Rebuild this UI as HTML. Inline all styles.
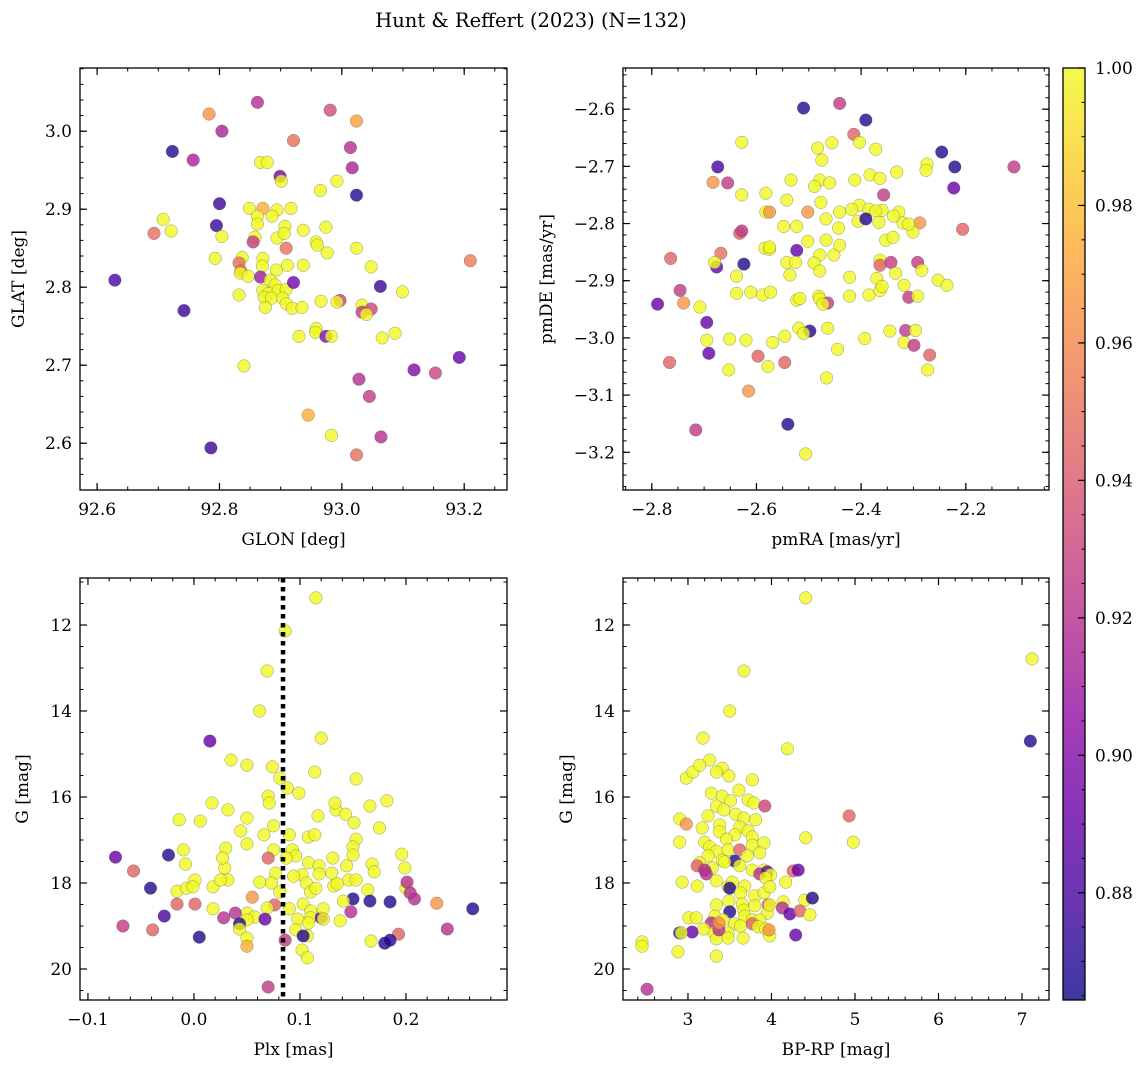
<!DOCTYPE html>
<html><head><meta charset="utf-8"><style>
html,body{margin:0;padding:0;background:#fff;}
svg{display:block;font-family:"DejaVu Serif","Liberation Serif",serif;}
</style></head><body>
<svg id="fig" width="1148" height="1067" viewBox="0 0 1148 1067" xmlns="http://www.w3.org/2000/svg">
<defs>
<linearGradient id="plasmaGrad" x1="0" y1="1" x2="0" y2="0">
<stop offset="0" stop-color="#0d0887"/><stop offset="0.1" stop-color="#41049d"/><stop offset="0.2" stop-color="#6a00a8"/><stop offset="0.3" stop-color="#8f0da4"/><stop offset="0.4" stop-color="#b12a90"/><stop offset="0.5" stop-color="#cc4778"/><stop offset="0.6" stop-color="#e16462"/><stop offset="0.7" stop-color="#f2844b"/><stop offset="0.8" stop-color="#fca636"/><stop offset="0.9" stop-color="#fcce25"/><stop offset="1" stop-color="#f0f921"/>
</linearGradient>
</defs>
<text x="531" y="27" text-anchor="middle" font-size="19.5">Hunt &amp; Reffert (2023) (N=132)</text>
</svg>
<script>
// ---- Panel 1: GLON / GLAT ----
const p1Glon=[92.783,92.862,92.981,93.024,93.014,92.804,92.723,92.757,92.921,93.017,92.867,92.878,92.899,92.901,92.992,92.965,93.024,92.849,92.871,92.894,92.917,92.708,92.800,92.862,92.886,92.974,92.721,92.693,92.795,92.862,92.907,92.937,92.804,92.858,92.894,92.906,92.958,92.960,92.976,93.024,92.793,92.837,92.855,92.909,92.871,92.832,92.835,92.870,92.893,92.911,92.937,93.048,92.629,92.742,92.834,92.847,92.867,92.883,92.891,92.871,92.880,92.896,92.909,92.921,93.063,93.099,92.832,92.873,92.885,92.903,92.909,92.875,92.919,92.935,92.997,92.992,93.033,93.033,93.048,93.040,92.966,92.958,92.957,92.974,92.930,92.983,93.087,93.066,93.210,92.840,93.192,93.153,93.118,93.028,93.045,92.945,92.983,93.064,93.024,92.786];
const p1Glat=[3.022,3.037,3.027,3.013,2.979,3.000,2.974,2.963,2.988,2.953,2.960,2.960,2.942,2.936,2.936,2.924,2.918,2.901,2.901,2.899,2.901,2.887,2.907,2.891,2.891,2.877,2.872,2.869,2.879,2.881,2.878,2.873,2.865,2.864,2.863,2.869,2.858,2.854,2.844,2.850,2.837,2.838,2.858,2.850,2.837,2.831,2.821,2.827,2.822,2.828,2.828,2.826,2.809,2.770,2.818,2.814,2.813,2.809,2.803,2.796,2.792,2.796,2.797,2.806,2.801,2.794,2.790,2.787,2.786,2.786,2.779,2.774,2.773,2.774,2.783,2.781,2.777,2.768,2.772,2.765,2.782,2.747,2.742,2.737,2.737,2.737,2.741,2.735,2.834,2.699,2.710,2.690,2.694,2.682,2.660,2.636,2.610,2.608,2.585,2.594];
const p1Prob=[0.965,0.92,0.935,0.97,0.92,0.915,0.87,0.915,0.95,0.915,1,1,0.895,1,1,1,0.87,1,0.975,1,1,1,0.875,1,1,1,1,0.95,0.875,1,1,1,1,1,1,1,1,1,1,1,1,1,0.925,0.95,1,0.95,0.95,1,1,1,1,1,0.88,0.875,1,1,0.91,1,1,1,1,1,1,0.895,0.875,1,1,1,1,1,1,1,1,1,0.93,1,1,0.925,0.93,1,1,1,1,0.9,1,1,1,1,0.955,1,0.89,0.93,0.9,0.92,0.925,0.975,1,0.92,0.95,0.875];

// ---- Panel 2: pmRA / pmDE ----
const p2Pmra=[-2.510,-2.441,-2.391,-2.414,-2.456,-2.403,-2.628,-2.246,-2.108,-2.483,-2.475,-2.372,-2.221,-2.674,-2.274,-2.276,-2.332,-2.683,-2.655,-2.534,-2.479,-2.383,-2.364,-2.628,-2.582,-2.489,-2.460,-2.412,-2.502,-2.357,-2.223,-2.328,-2.360,-2.582,-2.575,-2.206,-2.477,-2.542,-2.403,-2.385,-2.441,-2.418,-2.372,-2.288,-2.632,-2.548,-2.628,-2.523,-2.443,-2.467,-2.406,-2.366,-2.320,-2.301,-2.309,-2.338,-2.584,-2.575,-2.523,-2.502,-2.467,-2.479,-2.452,-2.441,-2.364,-2.353,-2.339,-2.764,-2.668,-2.676,-2.624,-2.638,-2.680,-2.542,-2.490,-2.479,-2.536,-2.525,-2.575,-2.422,-2.364,-2.343,-2.334,-2.292,-2.284,-2.253,-2.236,-2.638,-2.588,-2.573,-2.523,-2.481,-2.479,-2.464,-2.422,-2.385,-2.364,-2.309,-2.292,-2.370,-2.360,-2.318,-2.789,-2.746,-2.739,-2.708,-2.611,-2.517,-2.473,-2.695,-2.519,-2.498,-2.464,-2.315,-2.345,-2.296,-2.695,-2.691,-2.651,-2.620,-2.597,-2.569,-2.546,-2.510,-2.393,-2.318,-2.299,-2.269,-2.766,-2.653,-2.578,-2.546,-2.445,-2.466,-2.273,-2.615,-2.716,-2.540,-2.506,-2.391];
const p2Pmde=[-2.598,-2.590,-2.619,-2.644,-2.659,-2.658,-2.658,-2.675,-2.701,-2.668,-2.689,-2.670,-2.701,-2.701,-2.696,-2.707,-2.710,-2.728,-2.729,-2.724,-2.724,-2.715,-2.721,-2.750,-2.747,-2.735,-2.729,-2.724,-2.780,-2.750,-2.738,-2.780,-2.777,-2.780,-2.780,-2.810,-2.763,-2.759,-2.768,-2.775,-2.780,-2.775,-2.778,-2.799,-2.817,-2.805,-2.813,-2.805,-2.808,-2.792,-2.796,-2.798,-2.799,-2.815,-2.801,-2.787,-2.843,-2.845,-2.847,-2.831,-2.829,-2.855,-2.855,-2.838,-2.864,-2.829,-2.824,-2.861,-2.852,-2.876,-2.871,-2.892,-2.868,-2.868,-2.869,-2.883,-2.890,-2.868,-2.841,-2.894,-2.873,-2.868,-2.887,-2.868,-2.882,-2.899,-2.908,-2.922,-2.925,-2.920,-2.934,-2.927,-2.932,-2.939,-2.927,-2.925,-2.917,-2.929,-2.927,-2.896,-2.910,-2.908,-2.941,-2.917,-2.939,-2.946,-2.920,-2.931,-2.941,-2.973,-2.983,-2.988,-2.983,-2.987,-2.988,-2.987,-3.004,-3.027,-3.002,-3.004,-3.032,-3.008,-2.997,-2.992,-3.001,-3.008,-3.013,-3.030,-3.043,-3.056,-3.050,-3.043,-3.020,-3.070,-3.056,-3.093,-3.161,-3.151,-3.203,-2.792];
const p2Prob=[0.87,0.925,0.87,0.945,1,1,1,0.87,0.925,1,1,1,0.87,0.88,1,1,1,0.965,0.925,1,1,1,1,1,1,1,1,1,0.965,0.925,0.89,1,1,1,0.965,0.945,1,1,1,1,1,1,1,0.965,0.945,1,0.925,1,1,1,1,1,1,1,1,1,1,1,0.89,1,1,1,1,1,1,1,1,0.945,0.95,0.89,0.87,1,1,1,1,1,1,1,1,1,0.945,0.925,1,0.925,1,1,1,1,1,1,1,1,1,0.925,1,1,1,0.925,1,1,1,1,0.89,0.925,0.965,1,1,1,1,0.89,1,0.87,1,0.925,1,1,1,0.89,1,1,0.945,1,1,1,1,1,0.925,0.945,0.945,1,1,0.945,1,1,1,0.965,0.925,0.87,1,0.87];

// ---- Panel 3: Plx / G ----
const p3Plx=[0.115,0.086,0.069,0.062,0.120,0.015,0.035,0.074,0.081,0.088,0.050,0.114,0.153,0.099,0.070,0.071,0.166,0.182,0.134,0.117,0.133,0.017,0.032,0.006,-0.014,0.050,0.143,0.044,0.066,0.090,0.108,0.114,0.175,0.151,0.153,0.075,0.050,0.150,0.093,-0.010,0.030,0.075,0.096,0.029,0.070,0.087,0.108,0.077,0.102,0.118,0.130,0.144,0.150,0.168,0.196,-0.074,-0.057,-0.024,-0.008,0.027,0.131,0.146,0.170,0.094,0.073,0.106,0.118,0.132,0.153,0.001,0.032,0.055,-0.041,-0.016,-0.007,-0.001,0.018,0.025,0.062,0.081,0.110,0.115,0.135,0.164,0.199,0.200,0.201,0.208,0.150,0.185,0.103,0.076,0.090,0.141,0.166,0.110,0.110,0.120,0.122,0.138,0.204,0.229,0.263,-0.016,0.001,0.069,0.018,0.050,0.057,0.050,0.028,0.039,0.043,0.067,0.098,0.108,0.122,0.148,-0.028,-0.067,-0.039,0.005,0.043,0.050,0.050,0.086,0.096,0.107,0.103,0.167,0.193,0.239,0.102,0.107,0.070,0.180,0.185];
const p3G=[11.37,12.14,13.07,14.00,14.63,14.70,15.14,15.30,15.56,15.79,15.26,15.42,15.58,15.91,15.98,16.14,16.21,16.09,16.30,16.44,16.14,16.14,16.30,16.56,16.53,16.49,16.40,16.79,16.88,16.88,16.93,16.88,16.72,16.60,16.98,16.67,17.09,17.16,17.23,17.23,17.19,17.23,17.37,17.65,17.42,17.42,17.53,17.77,17.81,17.60,17.77,17.60,17.35,17.56,17.33,17.40,17.72,17.35,17.56,17.42,17.42,17.93,17.74,17.84,18.00,18.00,17.79,18.07,17.93,17.93,17.93,18.33,18.12,18.19,18.12,18.09,18.09,17.93,17.98,18.21,18.21,18.12,18.02,18.16,17.65,18.12,17.98,18.37,18.37,18.44,18.49,18.51,18.60,18.42,18.42,18.65,18.81,18.81,18.60,18.88,18.23,18.47,18.60,18.49,18.49,18.58,18.60,18.70,18.79,18.86,18.81,18.70,18.95,18.84,18.84,18.93,18.84,18.67,18.77,19.00,19.09,19.26,19.07,19.28,19.47,19.33,19.09,19.23,19.23,19.35,19.19,19.07,19.56,19.74,20.42,19.40,19.33];
const p3Prob=[1,1,1,1,1,0.89,1,1,1,1,1,1,1,1,1,1,1,1,1,1,1,1,1,1,1,1,1,1,1,1,1,1,1,1,1,1,1,1,1,1,1,1,1,1,0.945,1,1,1,1,1,1,1,1,1,1,0.89,0.945,0.87,1,1,1,1,1,1,1,1,1,1,1,1,1,0.965,0.87,1,1,1,1,1,1,1,1,1,1,1,1,1,0.92,0.92,0.87,0.87,1,0.945,1,1,0.87,1,1,0.89,1,1,0.92,0.965,0.87,0.945,0.945,1,1,1,1,1,0.92,0.92,0.87,0.89,1,1,1,0.92,0.88,0.925,0.945,0.87,1,1,0.975,0.925,1,1,0.87,1,0.945,0.92,1,1,0.925,0.87,0.87];

// ---- Panel 4: BP-RP / G ----
const p4Bprp=[4.41,7.12,7.10,3.67,3.50,3.18,4.19,3.77,3.26,3.41,2.98,3.06,3.14,3.34,3.49,3.61,3.28,3.41,3.51,3.72,3.79,3.92,3.34,3.43,3.24,3.57,3.67,3.81,2.90,2.98,3.38,3.62,3.72,3.17,3.38,3.56,3.77,2.90,3.20,3.46,3.26,3.34,3.48,3.62,3.77,3.91,4.41,4.98,3.24,3.41,3.56,3.71,3.86,3.14,3.29,3.44,3.62,3.77,3.91,3.11,3.20,3.22,3.86,3.95,3.99,4.26,4.32,2.93,3.34,3.48,3.53,3.68,3.93,3.11,3.50,3.63,3.80,3.91,3.98,4.17,4.40,4.49,3.96,4.14,3.95,3.65,3.49,3.34,3.67,3.80,3.50,3.98,3.01,3.10,3.32,3.42,3.56,3.68,3.77,3.86,4.13,4.22,4.34,4.46,2.90,3.05,3.28,3.31,3.48,3.63,3.77,3.84,3.93,3.19,3.34,3.37,3.48,3.66,3.98,3.97,4.29,2.45,2.45,2.88,3.34,2.51,3.37,2.92,4.93];
const p4G=[11.37,12.79,14.70,13.07,14.00,14.63,14.88,15.60,15.14,15.33,15.56,15.42,15.26,15.42,15.51,15.84,15.91,15.98,16.09,16.07,16.14,16.21,16.21,16.30,16.44,16.40,16.49,16.53,16.51,16.63,16.65,16.70,16.79,16.72,16.81,16.88,16.93,17.05,17.05,16.98,17.16,17.26,17.23,17.23,17.12,17.07,16.95,17.05,17.37,17.47,17.49,17.37,17.30,17.53,17.65,17.51,17.60,17.70,17.70,17.60,17.70,17.79,17.79,17.74,17.81,17.72,17.70,17.98,17.95,18.09,17.98,18.07,17.88,18.07,18.12,18.23,18.30,18.23,18.09,17.98,18.40,18.35,18.51,18.44,18.70,18.49,18.42,18.51,18.63,18.53,18.67,18.51,18.81,18.81,18.77,18.86,18.95,18.77,18.86,18.86,18.58,18.72,18.65,18.74,19.16,19.14,18.93,19.16,19.16,19.00,18.95,19.02,19.07,19.07,19.30,19.09,19.28,19.28,19.23,19.09,19.21,19.37,19.47,19.60,19.70,20.47,18.93,19.16,16.44];
const p4Prob=[1,1,0.87,1,1,1,1,1,1,1,1,1,1,1,1,1,1,1,1,1,1,0.93,1,1,1,1,1,1,1,0.965,1,1,1,1,1,1,1,1,1,1,1,1,1,0.945,1,1,1,1,1,1,0.87,1,1,1,1,1,1,1,1,0.945,0.92,0.92,0.92,0.89,1,0.945,0.89,1,1,1,1,1,1,1,0.87,1,1,1,1,1,1,0.87,0.945,1,1,1,1,1,1,1,0.87,1,1,1,1,1,1,1,1,1,0.92,0.89,0.945,1,0.87,0.89,0.92,1,1,1,0.945,1,1,1,1,0.92,1,1,1,0.965,0.89,1,1,1,1,0.92,0.965,1,0.945];

// ---- Colorbar / vline ----
const cbarTicks=[0.88,0.90,0.92,0.94,0.96,0.98,1.00];
const plxRef=[0.084];

const NS="http://www.w3.org/2000/svg";
const svg=document.getElementById('fig');
function mk(tag,attrs,parent){const e=document.createElementNS(NS,tag);for(const k in attrs)e.setAttribute(k,attrs[k]);(parent||svg).appendChild(e);return e;}
const VMIN=0.8644,VMAX=1.0;
const stops=['#0d0887','#41049d','#6a00a8','#8f0da4','#b12a90','#cc4778','#e16462','#f2844b','#fca636','#fcce25','#f0f921'];
function hex(h){return [parseInt(h.slice(1,3),16),parseInt(h.slice(3,5),16),parseInt(h.slice(5,7),16)];}
function plasma(v){let t=(v-VMIN)/(VMAX-VMIN);t=Math.max(0,Math.min(1,t));const f=t*10;const i=Math.min(9,Math.floor(f));const r=f-i;const a=hex(stops[i]),b=hex(stops[i+1]);return 'rgb('+a.map((c,k)=>Math.round(c+(b[k]-c)*r)).join(',')+')';}
function fmt(v,d){const s=Math.abs(v).toFixed(d);return (v<-1e-9?'\u2212':'')+s;}
const FS=17;

function panel(cfg){
  const g=mk('g',{});
  
  
  const sx=v=>cfg.x0+(v-cfg.xd[0])/(cfg.xd[1]-cfg.xd[0])*(cfg.x1-cfg.x0);
  const sy=v=>cfg.yinv? cfg.y0+(v-cfg.yd[0])/(cfg.yd[1]-cfg.yd[0])*(cfg.y1-cfg.y0)
                      : cfg.y1-(v-cfg.yd[0])/(cfg.yd[1]-cfg.yd[0])*(cfg.y1-cfg.y0);
  const pts=mk('g',{},g);
  
  
  const n=Math.min(cfg.xs.length,cfg.ys.length,cfg.ps.length);
  for(let i=0;i<n;i++){
    const c=mk('circle',{cx:sx(cfg.xs[i]),cy:sy(cfg.ys[i]),r:6.3,fill:plasma(cfg.ps[i]),'fill-opacity':0.8,stroke:'#555','stroke-width':0.5,'stroke-opacity':0.6},pts);
    
    
  }
  if(cfg.vline){
    const l=mk('line',{x1:sx(cfg.vline),x2:sx(cfg.vline),y1:cfg.y0,y2:cfg.y1,stroke:'#000','stroke-width':4.5,'stroke-dasharray':'4.5 4.5'},g);
    
    
  }
  const ax=mk('g',{},g);
  
  
  const eps=1e-9;
  for(let v=Math.ceil(cfg.xd[0]/cfg.xmin-eps)*cfg.xmin;v<=cfg.xd[1]+eps;v+=cfg.xmin){const X=sx(v);mk('line',{x1:X,x2:X,y1:cfg.y1,y2:cfg.y1-3.5,stroke:'#000','stroke-width':1},ax);mk('line',{x1:X,x2:X,y1:cfg.y0,y2:cfg.y0+3.5,stroke:'#000','stroke-width':1},ax);}
  const ylo=Math.min(cfg.yd[0],cfg.yd[1]),yhi=Math.max(cfg.yd[0],cfg.yd[1]);
  for(let v=Math.ceil(ylo/cfg.ymin-eps)*cfg.ymin;v<=yhi+eps;v+=cfg.ymin){const Y=sy(v);mk('line',{x1:cfg.x0,x2:cfg.x0+3.5,y1:Y,y2:Y,stroke:'#000','stroke-width':1},ax);mk('line',{x1:cfg.x1,x2:cfg.x1-3.5,y1:Y,y2:Y,stroke:'#000','stroke-width':1},ax);}
  cfg.xt.forEach(v=>{const X=sx(v);mk('line',{x1:X,x2:X,y1:cfg.y1,y2:cfg.y1-7,stroke:'#000','stroke-width':1.2},ax);mk('line',{x1:X,x2:X,y1:cfg.y0,y2:cfg.y0+7,stroke:'#000','stroke-width':1.2},ax);
    const t=mk('text',{x:X,y:cfg.y1+25,'text-anchor':'middle','font-size':FS},ax);t.textContent=fmt(v,cfg.xdec);});
  cfg.yt.forEach(v=>{const Y=sy(v);mk('line',{x1:cfg.x0,x2:cfg.x0+7,y1:Y,y2:Y,stroke:'#000','stroke-width':1.2},ax);mk('line',{x1:cfg.x1,x2:cfg.x1-7,y1:Y,y2:Y,stroke:'#000','stroke-width':1.2},ax);
    const t=mk('text',{x:cfg.x0-8,y:Y+6,'text-anchor':'end','font-size':FS},ax);t.textContent=fmt(v,cfg.ydec);});
  const fr=mk('rect',{x:cfg.x0,y:cfg.y0,width:cfg.x1-cfg.x0,height:cfg.y1-cfg.y0,fill:'none',stroke:'#000','stroke-width':1.3},ax);
  
  const xl=mk('text',{x:(cfg.x0+cfg.x1)/2,y:cfg.y1+55,'text-anchor':'middle','font-size':FS},ax);xl.textContent=cfg.xlab;
  
  const yc=(cfg.y0+cfg.y1)/2;
  const yl=mk('text',{x:cfg.ylx,y:yc,'text-anchor':'middle','font-size':FS,transform:'rotate(-90 '+cfg.ylx+' '+yc+')'},ax);yl.textContent=cfg.ylab;
  
}

panel({name:'glon-glat-panel',x0:80,x1:507,y0:68,y1:490,xd:[92.572,93.270],yd:[2.540,3.081],xs:p1Glon,ys:p1Glat,ps:p1Prob,
  xt:[92.6,92.8,93.0,93.2],xmin:0.05,xdec:1,yt:[2.6,2.7,2.8,2.9,3.0],ymin:0.02,ydec:1,xlab:'GLON [deg]',ylab:'GLAT [deg]',ylx:24});
panel({name:'proper-motion-panel',x0:623,x1:1049,y0:68,y1:490,xd:[-2.855,-2.041],yd:[-3.266,-2.528],xs:p2Pmra,ys:p2Pmde,ps:p2Prob,
  xt:[-2.8,-2.6,-2.4,-2.2],xmin:0.05,xdec:1,yt:[-3.2,-3.1,-3.0,-2.9,-2.8,-2.7,-2.6],ymin:0.02,ydec:1,xlab:'pmRA [mas/yr]',ylab:'pmDE [mas/yr]',ylx:552});
panel({name:'parallax-magnitude-panel',x0:80,x1:507,y0:578,y1:1000,xd:[-0.1075,0.2953],yd:[10.907,20.721],yinv:true,xs:p3Plx,ys:p3G,ps:p3Prob,vline:plxRef[0],
  xt:[-0.1,0.0,0.1,0.2],xmin:0.02,xdec:1,yt:[12,14,16,18,20],ymin:0.5,ydec:0,xlab:'Plx [mas]',ylab:'G [mag]',ylx:28});
panel({name:'color-magnitude-panel',x0:623,x1:1049,y0:578,y1:1000,xd:[2.222,7.323],yd:[10.907,20.721],yinv:true,xs:p4Bprp,ys:p4G,ps:p4Prob,
  xt:[3,4,5,6,7],xmin:0.2,xdec:0,yt:[12,14,16,18,20],ymin:0.5,ydec:0,xlab:'BP-RP [mag]',ylab:'G [mag]',ylx:572});

(function(){
  const g=mk('g',{});
  
  
  const x0=1063,x1=1085,y0=68,y1=1000;
  const sy=v=>y1-(v-VMIN)/(VMAX-VMIN)*(y1-y0);
  const r=mk('rect',{x:x0,y:y0,width:x1-x0,height:y1-y0,fill:'url(#plasmaGrad)','fill-opacity':0.8},g);
  
  for(let v=0.865;v<=1.0001;v+=0.005){const Y=sy(v);mk('line',{x1:x1,x2:x1-3.5,y1:Y,y2:Y,stroke:'#000','stroke-width':1},g);}
  cbarTicks.forEach(v=>{const Y=sy(v);mk('line',{x1:x1,x2:x1-7,y1:Y,y2:Y,stroke:'#000','stroke-width':1.2},g);
    const t=mk('text',{x:x1+10,y:Y+6,'font-size':FS},g);t.textContent=v.toFixed(2);
    });
  mk('rect',{x:x0,y:y0,width:x1-x0,height:y1-y0,fill:'none',stroke:'#000','stroke-width':1.3},g);
})();
</script>
</body></html>
